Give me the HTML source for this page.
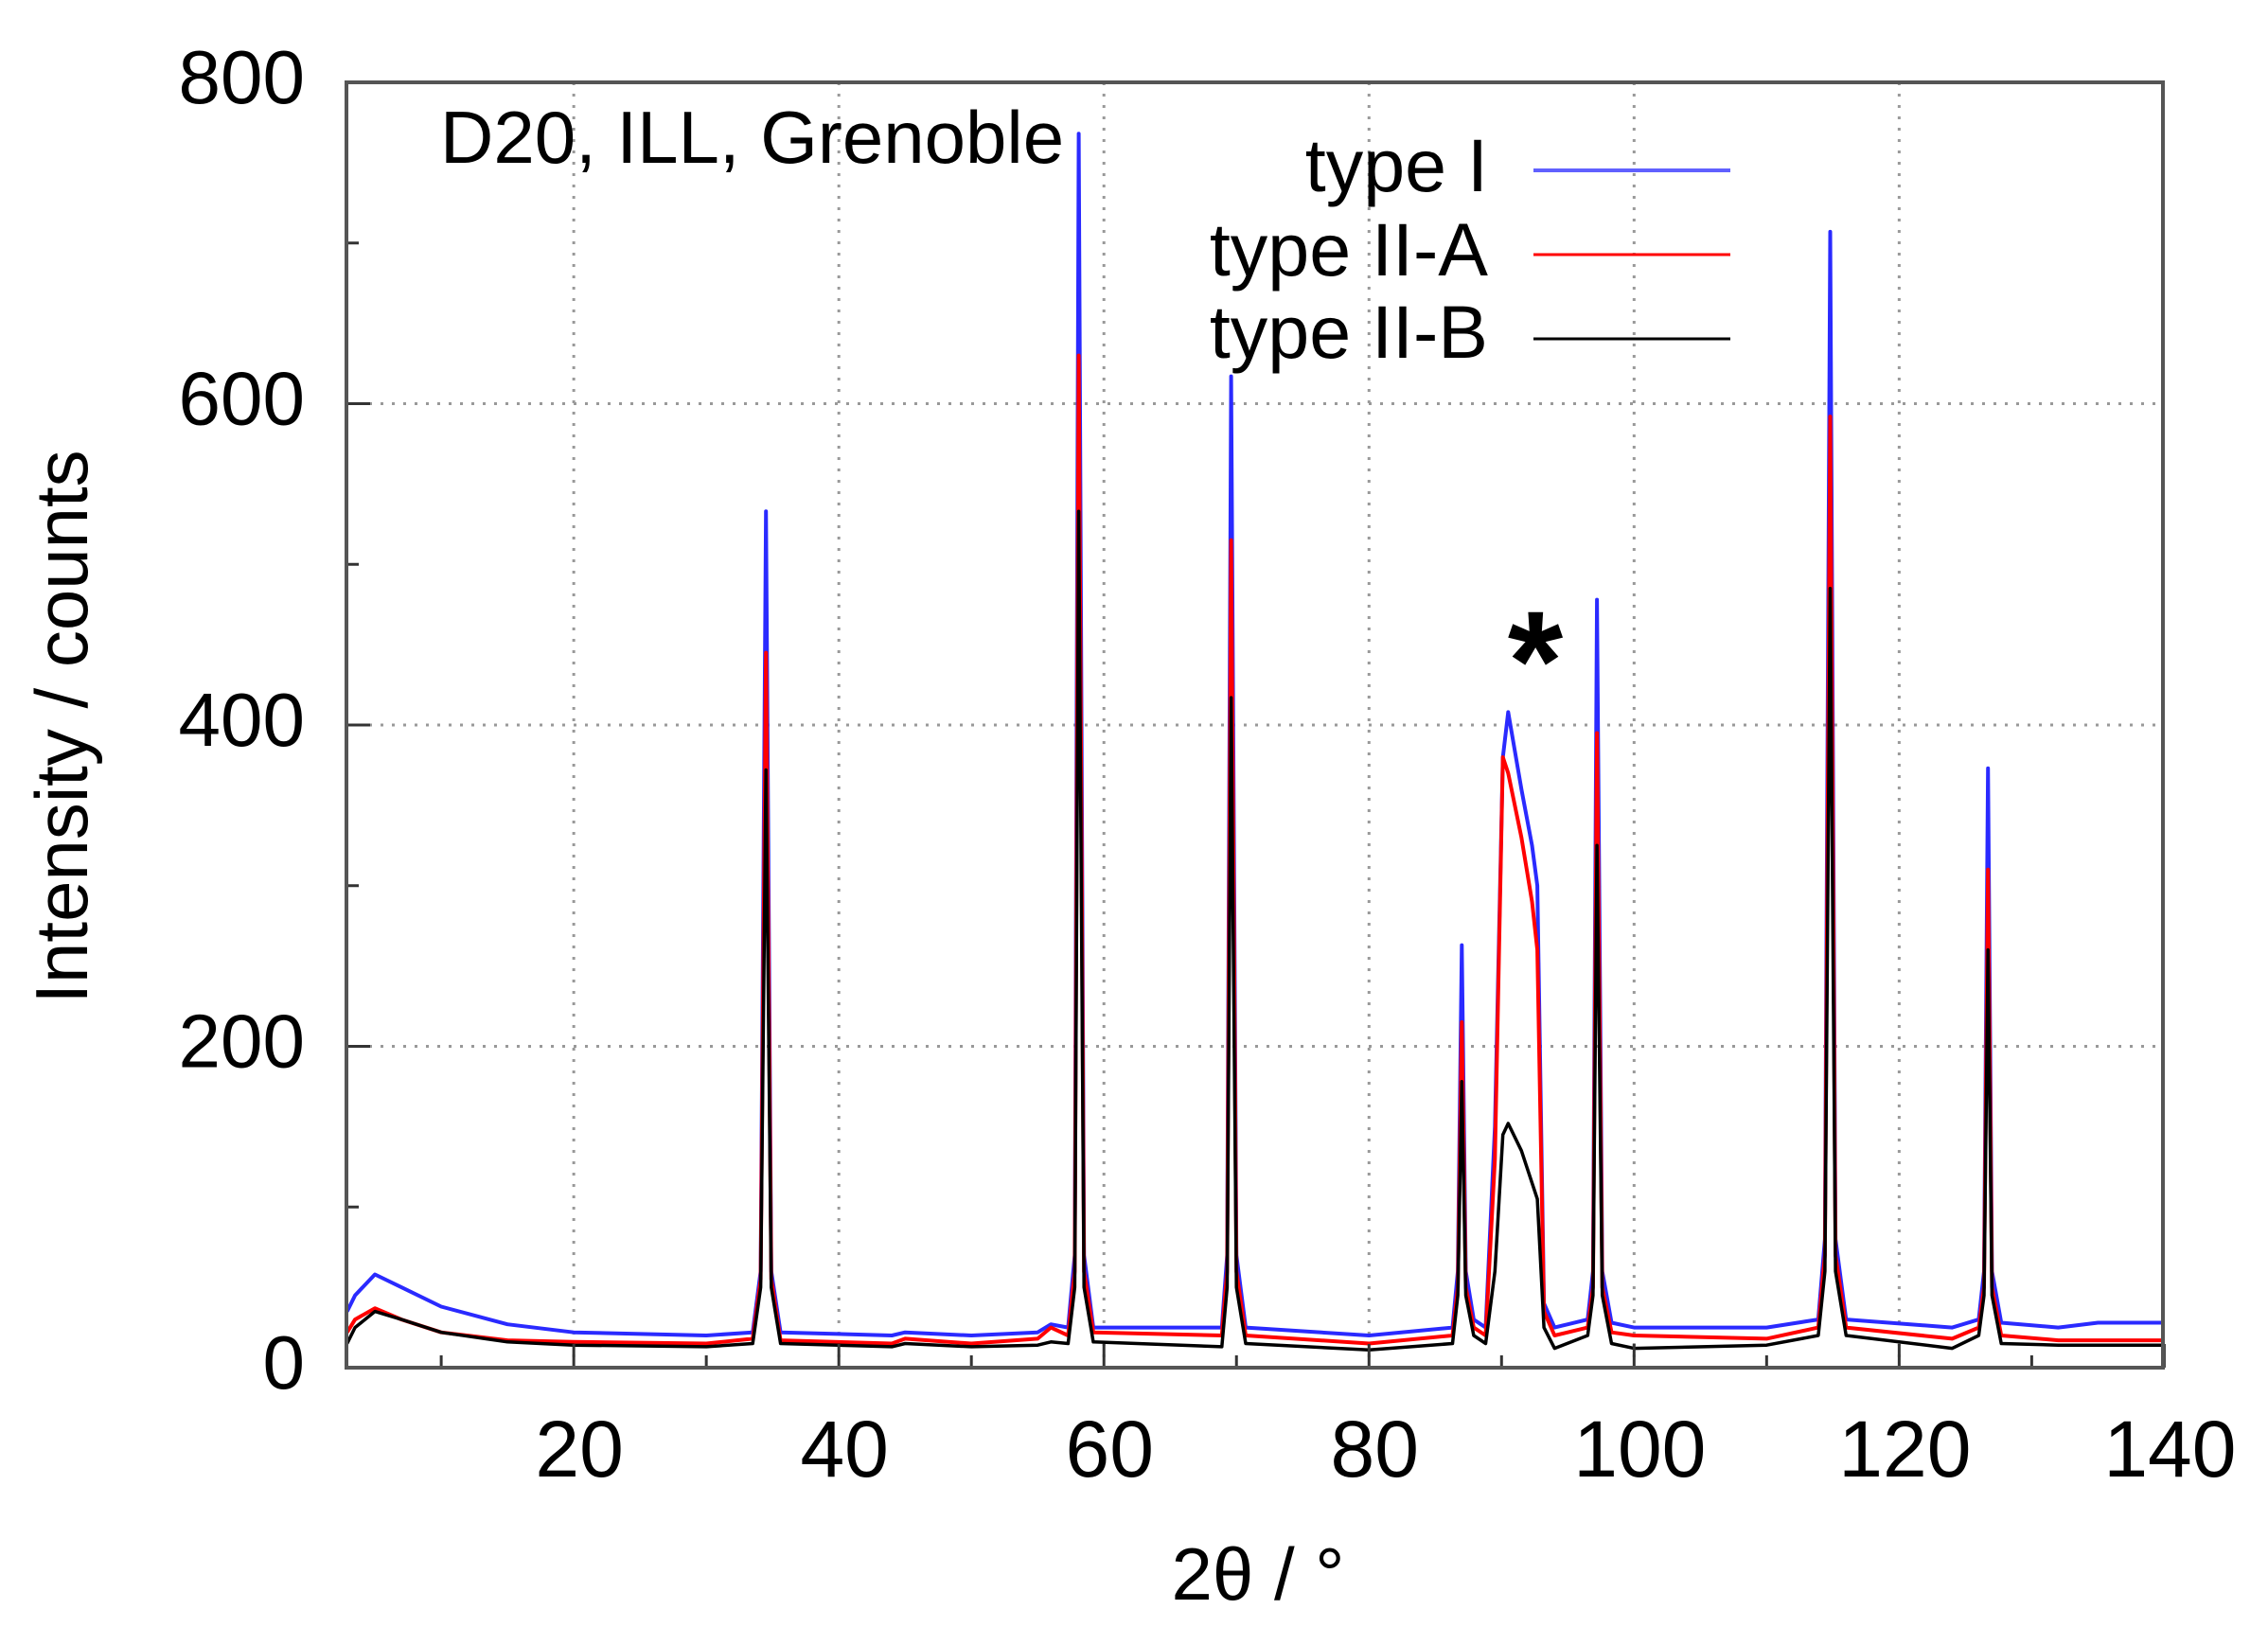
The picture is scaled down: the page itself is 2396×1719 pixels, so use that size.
<!DOCTYPE html>
<html><head><meta charset="utf-8"><style>
html,body{margin:0;padding:0;background:#fff;}
svg{display:block;font-family:"Liberation Sans",Arial,sans-serif;}
</style></head><body>
<svg id="chart" width="2396" height="1719" viewBox="0 0 2396 1719">
<g id="grid"></g>
<g id="series"></g>
<g id="axes"></g>
<text x="465" y="172" font-size="78" fill="#000">D20, ILL, Grenoble</text>
<text x="1622" y="750" font-size="150" font-weight="bold" text-anchor="middle" fill="#000">*</text>
<g>
<g><text x="1572" y="202" font-size="79" text-anchor="end">type I</text><line x1="1620" y1="180" x2="1828" y2="180" stroke="#6060ff" stroke-width="4"/></g>
<g><text x="1572" y="291" font-size="79" text-anchor="end">type II-A</text><line x1="1620" y1="269" x2="1828" y2="269" stroke="#ff0000" stroke-width="3"/></g>
<g><text x="1572" y="378" font-size="79" text-anchor="end">type II-B</text><line x1="1620" y1="358" x2="1828" y2="358" stroke="#000" stroke-width="3"/></g>
</g>
<text transform="translate(92,768) rotate(-90)" font-size="78" text-anchor="middle">Intensity / counts</text>
<text x="1329" y="1690" font-size="78" text-anchor="middle">2θ / °</text>
</svg>
<script>
const twoTheta=[2.9,3.5,5,7,10,15,20,30,33.5,34.1,34.5,34.9,35.6,44,45,50,55,56,57.3,57.8,58.1,58.5,59.2,68.9,69.3,69.6,70.0,70.7,80,86.3,86.7,87.0,87.3,87.9,88.8,89.5,90.1,90.5,91.5,92.3,92.7,93.2,94.0,96.5,96.9,97.2,97.6,98.3,100,110,113.9,114.4,114.8,115.2,116.0,124,126.0,126.4,126.7,127.0,127.7,132,135,140];
const typeI=[35,45,58,50,38,27,22,20,22,60,533,60,22,20,22,20,22,27,25,70,768,70,25,25,70,617,70,25,20,25,60,263,60,30,25,150,380,408,360,325,300,40,25,30,60,478,60,28,25,25,30,80,707,80,30,25,30,60,373,60,28,25,28,28];
const typeIIA=[22,30,37,30,22,17,16,15,18,55,445,55,17,15,18,15,18,25,20,60,630,60,22,20,60,515,60,20,15,20,50,215,50,25,20,130,380,370,330,290,260,35,20,25,50,395,50,22,20,18,25,70,592,70,25,18,25,50,310,50,20,17,17,17];
const typeIIB=[15,25,35,30,22,16,14,13,15,50,372,50,15,13,15,13,14,16,15,50,533,50,16,13,50,417,50,15,11,15,45,178,45,20,15,60,145,152,135,115,105,25,12,20,45,325,45,15,12,14,20,60,485,60,20,12,20,45,260,45,15,14,14,14];
const xTickLabels=[20,40,60,80,100,120,140];
const yTickLabels=[0,200,400,600,800];
const xMinorTicks=[10,30,50,70,90,110,130];
const yMinorTicks=[100,300,500,700];

const NS="http://www.w3.org/2000/svg";
const L=366,R=2285,T=87,B=1445;
const X0=2.85,X1=139.9,Y0=0,Y1=800;
function sx(v){return L+(v-X0)/(X1-X0)*(R-L);}
function sy(v){return B-(v-Y0)/(Y1-Y0)*(B-T);}
function mk(tag,attrs,parent){const e=document.createElementNS(NS,tag);for(const k in attrs)e.setAttribute(k,attrs[k]);parent.appendChild(e);return e;}
const grid=document.getElementById('grid'),axes=document.getElementById('axes'),ser=document.getElementById('series');

xTickLabels.forEach(v=>{
  const x=sx(v);
  if(v<140){const g=mk('line',{x1:x,y1:T,x2:x,y2:B,stroke:'#999','stroke-width':3,'stroke-dasharray':'3 9'},grid);
  
  }
  const t=mk('line',{x1:x,y1:B,x2:x,y2:B-25,stroke:'#333','stroke-width':3},axes);
  
  
  const lb=mk('text',{x:x+6,y:1560,'font-size':84,'text-anchor':'middle'},axes);lb.textContent=v;
  
  
});
xMinorTicks.forEach(v=>{const t=mk('line',{x1:sx(v),y1:B,x2:sx(v),y2:B-13,stroke:'#333','stroke-width':3},axes);
  
  });
yTickLabels.forEach(v=>{
  const y=sy(v);
  if(v>0&&v<800){const g=mk('line',{x1:L,y1:y,x2:R,y2:y,stroke:'#999','stroke-width':3,'stroke-dasharray':'3 9'},grid);
  
  }
  const t=mk('line',{x1:L,y1:y,x2:L+25,y2:y,stroke:'#333','stroke-width':3},axes);
  
  
  const lb=mk('text',{x:322,y:y+22,'font-size':80,'text-anchor':'end'},axes);lb.textContent=v;
  
  
});
yMinorTicks.forEach(v=>{const t=mk('line',{x1:L,y1:sy(v),x2:L+13,y2:sy(v),stroke:'#333','stroke-width':3},axes);
  
  });
const frame=mk('rect',{x:L,y:T,width:R-L,height:B-T,fill:'none',stroke:'#555','stroke-width':4},axes);



function draw(vals,color,w,name){
  const d=vals.map((v,i)=>(i?'L':'M')+sx(twoTheta[i]).toFixed(1)+','+sy(v).toFixed(1)).join(' ');
  const p=mk('path',{d:d,fill:'none',stroke:color,'stroke-width':w,'stroke-linejoin':'round'},ser);
  
  
}
draw(typeI,'#2a2aff',4,'series-type-i');
draw(typeIIA,'#ff0000',4,'series-type-ii-a');
draw(typeIIB,'#000000',3.5,'series-type-ii-b');
</script>
</body></html>
